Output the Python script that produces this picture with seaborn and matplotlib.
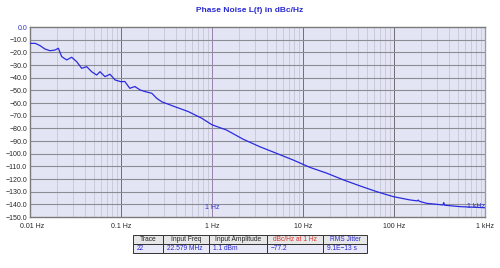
import numpy as np
import pandas as pd
import matplotlib
matplotlib.use("Agg")
import matplotlib.pyplot as plt
import seaborn as sns
from matplotlib.patches import Rectangle
from matplotlib.transforms import ScaledTranslation

freq_hz = [0.0101, 0.0114, 0.0129, 0.0146, 0.0166, 0.0188, 0.0205, 0.0223, 0.0253, 0.0287,
           0.0326, 0.037, 0.042, 0.0476, 0.054, 0.0588, 0.0667, 0.0757, 0.086, 0.1,
           0.11, 0.125, 0.142, 0.162, 0.184, 0.218, 0.247, 0.28, 0.39, 0.55,
           0.77, 1.0, 1.44, 2.2, 3.35, 5.1, 7.8, 11.9, 18.4, 28,
           42.5, 64.6, 98, 149, 180, 184, 190, 228, 346, 352, 360, 530, 950, 1000]
noise_dbc = [-12.9, -12.9, -14.7, -17.4, -18.7, -18.2, -16.8, -23.4, -26.0, -23.9,
             -27.4, -32.6, -31.3, -35.3, -37.9, -35.3, -39.2, -37.3, -41.8, -43.2,
             -43.0, -48.4, -47.0, -49.7, -51.0, -52.3, -56.3, -59.0, -62.9, -66.8,
             -72.0, -77.2, -81.3, -88.6, -94.5, -99.7, -105.0, -110.8, -115.5, -120.8,
             -125.5, -130.0, -133.9, -136.5, -137.3, -136.6, -137.6, -139.2, -140.5, -138.6, -140.7, -141.8, -142.6, -142.7]

y_ticks = [0, -10, -20, -30, -40, -50, -60, -70, -80, -90, -100, -110, -120, -130, -140, -150]
x_ticks = [0.01, 0.1, 1, 10, 100, 1000]
x_labels = ["0.01 Hz", "0.1 Hz", "1 Hz", "10 Hz", "100 Hz", "1 kHz"]

table_headers = ["Trace", "Input Freq", "Input Amplitude", "dBc/Hz at 1 Hz", "RMS Jitter"]
table_values = ["22", "22.579 MHz", "1.1 dBm", "\u221277.2", "9.1E\u221213 s"]

sns.set_style("white")
plt.rcParams['font.family'] = ['Liberation Sans', 'DejaVu Sans']

W, H = 500, 268
fig = plt.figure(figsize=(5, 2.68), dpi=100)
ax = fig.add_axes([30 / W, 1 - 217 / H, 455 / W, 190 / H])
ax.set_facecolor("#e3e5f4")

df = pd.DataFrame({"f": freq_hz, "L": noise_dbc})
sns.lineplot(data=df, x="f", y="L", ax=ax, color="#2a2ae0", linewidth=0.9, zorder=5)

ax.set_xscale("log")
ax.set_xlim(0.01, 1000)
ax.set_ylim(-150, 0)

# grid
for dec in [0.01, 0.1, 1, 10, 100]:
    for m in range(2, 10):
        ax.axvline(dec * m, color="#c0c0d0", linewidth=0.5, zorder=1)
for xt in x_ticks[1:-1]:
    c = "#9a80b0" if xt == 1 else "#6e6e74"
    ax.axvline(xt, color=c, linewidth=0.7, zorder=2)
for yt in y_ticks[1:-1]:
    ax.axhline(yt, color="#8c8c96", linewidth=0.8, zorder=2)

ax.set_yticks(y_ticks)
ax.set_yticklabels([f"{v:.1f}".replace("-", "\u2212") for v in y_ticks], fontsize=5)
ax.get_yticklabels()[0].set_color("#3030c0")
ax.set_xticks(x_ticks)
ax.set_xticklabels(x_labels, fontsize=5)
ax.xaxis.set_minor_locator(matplotlib.ticker.NullLocator())
ax.tick_params(axis="y", length=0, pad=2)
ax.tick_params(axis="x", length=0, pad=4)
# nudge first x label right, like the reference
lbl0 = ax.get_xticklabels()[0]
lbl0.set_transform(lbl0.get_transform() + ScaledTranslation(2 / 100, 0, fig.dpi_scale_trans))
ax.set_xlabel("")
ax.set_ylabel("")
for s in ax.spines.values():
    s.set_color("#7a7a7a")
    s.set_linewidth(1.0)
ax.spines["right"].set_linestyle((0, (2, 1)))
ax.spines["right"].set_color("#9a9aa8")

ax.text(1, -142.5, "1 Hz", color="#3030d0", fontsize=5, ha="center", va="center", zorder=6)
ax.text(1000, -142.0, "1 kHz", color="#3030d0", fontsize=5, ha="right", va="center", zorder=6)

fig.text(250 / W, 1 - 11 / H, "Phase Noise L(f) in dBc/Hz", color="#2a2ad0",
         fontsize=6, fontweight="bold", ha="center", va="center")

# table
tax = fig.add_axes([0, 0, 1, 1])
tax.set_xlim(0, W)
tax.set_ylim(H, 0)
tax.axis("off")
cols = [133, 163, 209, 267, 323, 367]
top, mid, bot = 235, 243.5, 253
hdr_colors = ["#222222", "#222222", "#222222", "#e03030", "#2a2ad0"]
for i in range(5):
    x0, x1 = cols[i], cols[i + 1]
    tax.add_patch(Rectangle((x0, top), x1 - x0, mid - top, facecolor="#e6e6e6",
                            edgecolor="#333333", linewidth=0.7))
    tax.add_patch(Rectangle((x0, mid), x1 - x0, bot - mid, facecolor="#e8e8f6",
                            edgecolor="#333333", linewidth=0.7))
    tax.text((x0 + x1) / 2, (top + mid) / 2, table_headers[i], fontsize=4.8,
             color=hdr_colors[i], ha="center", va="center")
    tax.text(x0 + 4, (mid + bot) / 2, table_values[i], fontsize=4.8,
             color="#2a2ad0", ha="left", va="center")

fig.savefig("out.png", dpi=100)
